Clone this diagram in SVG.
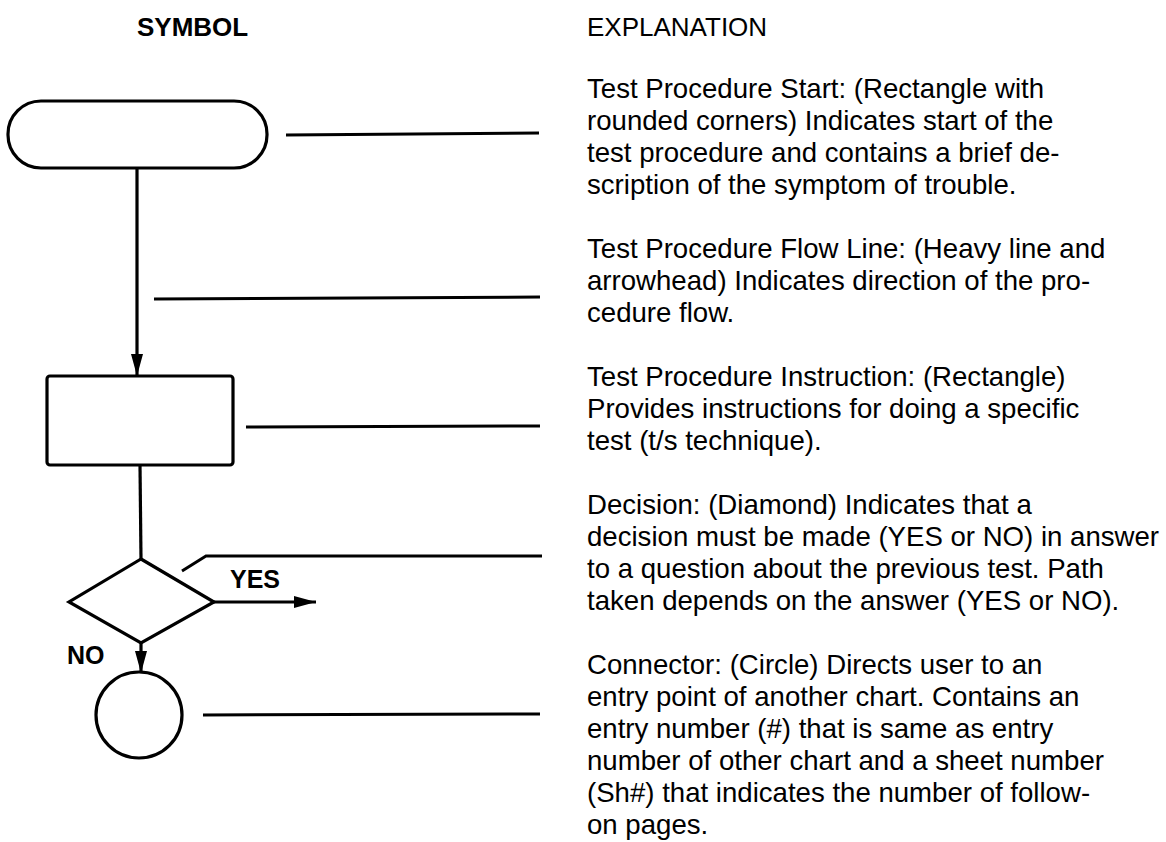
<svg xmlns="http://www.w3.org/2000/svg" width="1166" height="842" viewBox="0 0 1166 842">
<style>
.shape{fill:#fff;stroke:#000;stroke-width:3.2}
.flow{fill:none;stroke:#000;stroke-width:3.2}
.lead{fill:none;stroke:#000;stroke-width:3}
.hd{font-family:"Liberation Sans",Arial,sans-serif;font-size:26px;fill:#000}
.txt{font-family:"Liberation Sans",Arial,sans-serif;font-size:27.6px;fill:#000}
.lbl{font-family:"Liberation Sans",Arial,sans-serif;font-size:25px;font-weight:bold;fill:#000}
</style>
<defs>
<marker id="ah" markerUnits="userSpaceOnUse" markerWidth="22" markerHeight="12" refX="22" refY="6" orient="auto">
<path d="M0,0 L22,6 L0,12 Z" fill="#000"/>
</marker>
</defs>
<rect width="1166" height="842" fill="#fff"/>
<g id="headers">
<text class="hd" x="137" y="36" font-weight="bold">SYMBOL</text>
<text class="hd" x="587" y="36">EXPLANATION</text>
</g>
<g id="start"><rect class="shape" x="8" y="101" width="259" height="67" rx="33" ry="33"/></g>
<g id="instruction"><rect class="shape" x="47" y="376" width="186" height="89" rx="3" ry="3"/></g>
<g id="decision"><polygon class="shape" points="141,559 214,602 141,643 69,602"/></g>
<g id="connector"><circle class="shape" cx="139" cy="715" r="43"/></g>
<g id="connectors">
<line class="flow" x1="137" y1="168" x2="137" y2="376" marker-end="url(#ah)"/>
<line class="flow" x1="140" y1="465" x2="141" y2="559"/>
<line class="flow" x1="214" y1="602" x2="316" y2="602" marker-end="url(#ah)"/>
<line class="flow" x1="141" y1="643" x2="141" y2="673" marker-end="url(#ah)"/>
</g>
<g id="labels">
<text class="lbl" x="230" y="588">YES</text>
<text class="lbl" x="67" y="664">NO</text>
</g>
<g id="leaders">
<line class="lead" x1="286" y1="135" x2="539" y2="133"/>
<line class="lead" x1="154" y1="299" x2="540" y2="297"/>
<line class="lead" x1="246" y1="427" x2="540" y2="426"/>
<polyline class="lead" points="182,571 206,556 542,556"/>
<line class="lead" x1="203" y1="715" x2="540" y2="714"/>
</g>
<g id="explanations" class="txt">
<text x="587" y="98">Test Procedure Start: (Rectangle with</text>
<text x="587" y="130">rounded corners) Indicates start of the</text>
<text x="587" y="162">test procedure and contains a brief de-</text>
<text x="587" y="194">scription of the symptom of trouble.</text>
<text x="587" y="258">Test Procedure Flow Line: (Heavy line and</text>
<text x="587" y="290">arrowhead) Indicates direction of the pro-</text>
<text x="587" y="322">cedure flow.</text>
<text x="587" y="386">Test Procedure Instruction: (Rectangle)</text>
<text x="587" y="418">Provides instructions for doing a specific</text>
<text x="587" y="450">test (t/s technique).</text>
<text x="587" y="514">Decision: (Diamond) Indicates that a</text>
<text x="587" y="546">decision must be made (YES or NO) in answer</text>
<text x="587" y="578">to a question about the previous test. Path</text>
<text x="587" y="610">taken depends on the answer (YES or NO).</text>
<text x="587" y="674">Connector: (Circle) Directs user to an</text>
<text x="587" y="706">entry point of another chart. Contains an</text>
<text x="587" y="738">entry number (#) that is same as entry</text>
<text x="587" y="770">number of other chart and a sheet number</text>
<text x="587" y="802">(Sh#) that indicates the number of follow-</text>
<text x="587" y="834">on pages.</text>
</g>
</svg>
